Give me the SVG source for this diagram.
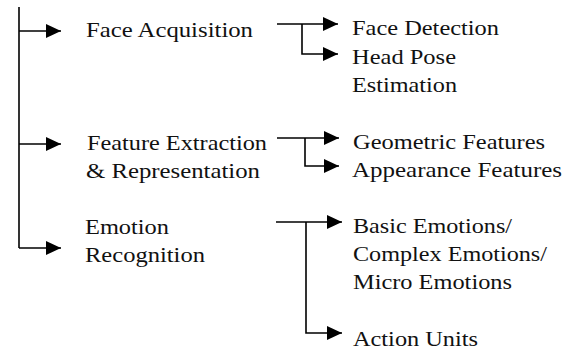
<svg xmlns="http://www.w3.org/2000/svg" width="574" height="351" viewBox="0 0 574 351">
<style>
text{font-family:'Liberation Serif','Times New Roman',serif;font-size:22px;fill:#111}
.c{fill:none;stroke:#000;stroke-width:1.6}
</style>
<defs>
<marker id="ah" markerUnits="userSpaceOnUse" markerWidth="15" markerHeight="14" refX="15" refY="7" orient="auto">
<path d="M0,0 L15,7 L0,14 z" fill="#000"/>
</marker>
</defs>
<rect width="574" height="351" fill="#fff"/>
<g id="connectors">
<path class="c" d="M19,7 V248"/>
<path class="c" d="M19,31 H61" marker-end="url(#ah)"/>
<path class="c" d="M19,144 H61" marker-end="url(#ah)"/>
<path class="c" d="M19,248 H61" marker-end="url(#ah)"/>
<path class="c" d="M277,24 H338" marker-end="url(#ah)"/>
<path class="c" d="M302,24 V54 H338" marker-end="url(#ah)"/>
<path class="c" d="M277,138 H339" marker-end="url(#ah)"/>
<path class="c" d="M305,138 V166 H339" marker-end="url(#ah)"/>
<path class="c" d="M276,222 H342" marker-end="url(#ah)"/>
<path class="c" d="M306,222 V333 H342" marker-end="url(#ah)"/>
</g>
<g id="face-acquisition"><text x="86" y="37" textLength="167" lengthAdjust="spacingAndGlyphs">Face Acquisition</text></g>
<g id="face-detection"><text x="352" y="35" textLength="147" lengthAdjust="spacingAndGlyphs">Face Detection</text></g>
<g id="head-pose"><text x="352" y="64" textLength="104" lengthAdjust="spacingAndGlyphs">Head Pose</text><text x="352" y="92" textLength="105" lengthAdjust="spacingAndGlyphs">Estimation</text></g>
<g id="feature-extraction"><text x="87" y="150" textLength="180" lengthAdjust="spacingAndGlyphs">Feature Extraction</text><text x="86" y="178" textLength="174" lengthAdjust="spacingAndGlyphs">&amp; Representation</text></g>
<g id="geometric-features"><text x="353" y="149" textLength="192" lengthAdjust="spacingAndGlyphs">Geometric Features</text></g>
<g id="appearance-features"><text x="352" y="177" textLength="210" lengthAdjust="spacingAndGlyphs">Appearance Features</text></g>
<g id="emotion-recognition"><text x="85" y="234" textLength="84" lengthAdjust="spacingAndGlyphs">Emotion</text><text x="85" y="262" textLength="120" lengthAdjust="spacingAndGlyphs">Recognition</text></g>
<g id="emotions"><text x="353" y="233" textLength="159" lengthAdjust="spacingAndGlyphs">Basic Emotions/</text><text x="353" y="261" textLength="194" lengthAdjust="spacingAndGlyphs">Complex Emotions/</text><text x="353" y="289" textLength="159" lengthAdjust="spacingAndGlyphs">Micro Emotions</text></g>
<g id="action-units"><text x="353" y="346" textLength="125" lengthAdjust="spacingAndGlyphs">Action Units</text></g>
</svg>
